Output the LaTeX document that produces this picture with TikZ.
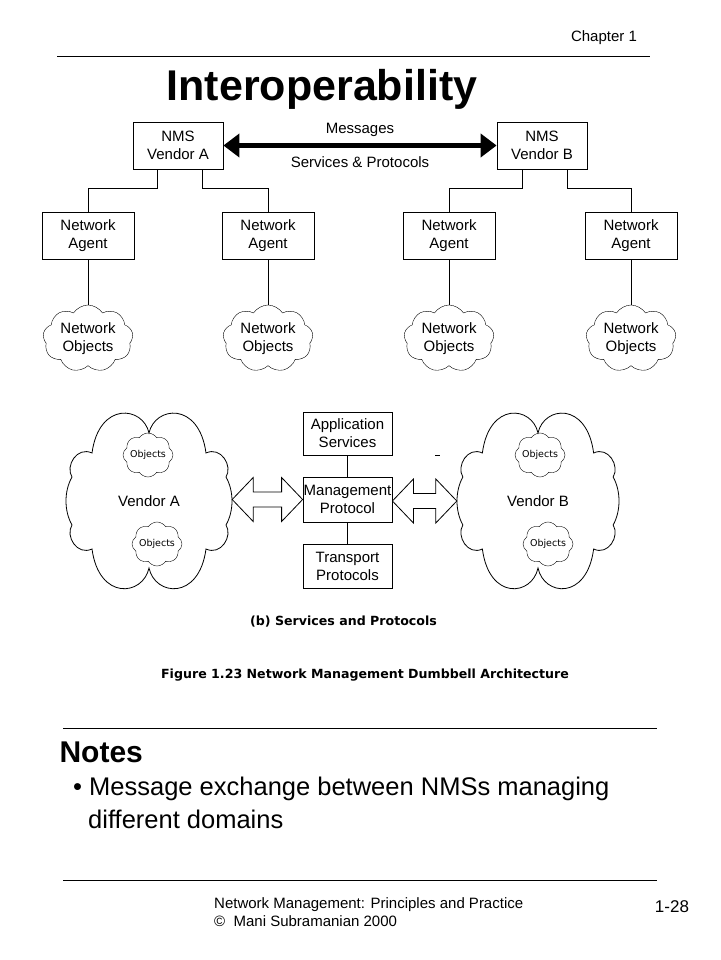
\documentclass[tikz,border=0pt]{standalone}
\usepackage{fontspec}
\setmainfont{Liberation Sans}
\newfontfamily\capfont{DejaVu Sans}
\usetikzlibrary{arrows.meta,positioning,shapes.symbols,calc}

\newcommand{\diagfont}{\fontsize{15}{18}\selectfont}
% outline of a vendor cloud round a named node
\newcommand{\vendorcloud}[2]{%
  \draw[link, shift={(#1.center)}, xscale=#2]
    (0,-68) .. controls (6,-95) and (50,-100) .. (57,-48)
    .. controls (72,-55) and (84,-35) .. (77,-24)
    .. controls (85,-10) and (85,10) .. (77,24)
    .. controls (84,35) and (72,55) .. (57,48)
    .. controls (50,100) and (6,95) .. (0,67)
    .. controls (-6,95) and (-50,100) .. (-57,48)
    .. controls (-72,55) and (-84,35) .. (-77,24)
    .. controls (-85,10) and (-85,-10) .. (-77,-24)
    .. controls (-84,-35) and (-72,-55) .. (-57,-48)
    .. controls (-50,-100) and (-6,-95) .. (0,-68) -- cycle;}

\begin{document}
\begin{tikzpicture}[x=1pt, y=-1pt,
  box/.style={draw, line width=0.8pt, minimum width=90pt, minimum height=47pt,
    align=center, inner sep=0.5pt, font=\diagfont},
  objcloud/.style={draw, cloud, cloud puffs=9, cloud puff arc=115, cloud ignores aspect,
    minimum width=90pt, minimum height=67pt, align=center, inner sep=0pt, font=\diagfont},
  vendor/.style={minimum height=178pt, inner sep=0pt, font=\diagfont},
  smallcloud/.style={draw, cloud, cloud puffs=8, cloud puff arc=115, cloud ignores aspect,
    minimum width=50pt, minimum height=44pt, inner sep=0pt,
    font=\capfont\fontsize{9.5}{10}\selectfont},
  rule/.style={line width=0.8pt},
  link/.style={line width=0.8pt}
]
\useasboundingbox (0,0) rectangle (720,960);

% header
\node[font=\fontsize{15}{17}\selectfont] (chap) at (604,38) {Chapter 1};
\draw[rule] (57,56) -- (650,56);
\node[font=\fontsize{43}{48}\selectfont\bfseries] (title) at (322,89) {Interoperability};

% (a) NMS and agents
\node[box] (nmsA) at (178,145.5) {NMS\\Vendor A};
\node[box] (nmsB) at (542,145.5) {NMS\\Vendor B};
\draw[line width=5pt, {Triangle[length=16pt,width=23pt]}-{Triangle[length=16pt,width=23pt]}]
  (nmsA.east) -- (nmsB.west)
  node[midway, above=3pt, font=\diagfont] (msg) {Messages}
  node[midway, below=5pt, font=\diagfont] (serv) {Services \& Protocols};

\foreach \n/\x in {agA/88, agB/268, agC/449, agD/631} {
  \node[box, minimum width=92pt] (\n) at (\x,236) {Network\\Agent};
  \node[objcloud] (obj\n) at (\x,338.5) {Network\\Objects};
  \draw[link] (\n) -- (obj\n);
}
\foreach \m/\a/\dx in {nmsA/agA/-21, nmsA/agB/24, nmsB/agC/-20, nmsB/agD/25}
  \draw[link] ([xshift=\dx pt]\m.south) -- ++(0,19) -| (\a.north);

% (b) services and protocols
\node[vendor, minimum width=166pt] (vendA) at (149,501) {Vendor A};
\node[vendor, minimum width=162pt] (vendB) at (538,501) {Vendor B};
\vendorcloud{vendA}{1}
\vendorcloud{vendB}{0.976}
\node[smallcloud] (objA1) at (148,455) {Objects};
\node[smallcloud] (objA2) at (157,544) {Objects};
\node[smallcloud] (objB1) at (540,455) {Objects};
\node[smallcloud] (objB2) at (548,544) {Objects};

\node[box, minimum width=89pt, minimum height=43pt] (app) at (347.5,433.5) {Application\\Services};
\node[box, minimum width=89pt, minimum height=45pt] (mgmt) at (347.5,499.5) {Management\\Protocol};
\node[box, minimum width=89pt, minimum height=44pt] (trans) at (347.5,566) {Transport\\Protocols};
\draw[link] (app) -- (mgmt);
\draw[link] (mgmt) -- (trans);

% hollow double arrows
\foreach \a/\b in {vendA/mgmt, mgmt/vendB}
  \draw[link] let \p1=(\a.east), \p2=(\b.west) in
    (\x1,\y2) -- (\x1+21pt,\y2+22pt) -- (\x1+21pt,\y2+7.5pt) -- (\x2-21pt,\y2+7.5pt)
    -- (\x2-21pt,\y2+22pt) -- (\x2,\y2) -- (\x2-21pt,\y2-22pt) -- (\x2-21pt,\y2-7.5pt)
    -- (\x1+21pt,\y2-7.5pt) -- (\x1+21pt,\y2-22pt) -- cycle;
\draw[link] (435,455) -- (440,455);

\node[font=\capfont\bfseries\fontsize{12.6}{15}\selectfont] (capb) at (343.5,622) {(b) Services and Protocols};
\node[font=\capfont\bfseries\fontsize{12.6}{15}\selectfont] (capfig) at (365,675) {Figure 1.23 Network Management Dumbbell Architecture};

% notes
\draw[rule] (63,728) -- (657,728);
\node[anchor=west, font=\fontsize{30}{34}\selectfont\bfseries] (notes) at (56,752) {Notes};
\node[anchor=north west, align=left, inner sep=0pt, font=\fontsize{25.5}{33}\selectfont] (note1) at (73,777)
  {\textbullet\ Message exchange between NMSs managing\\
   \hspace*{15pt}different domains};
\draw[rule] (63,880) -- (657,880);

% footer
\node[anchor=west, align=left, inner sep=0pt, font=\fontsize{15}{18}\selectfont] (foot) at (214,912)
  {Network Management: Principles and Practice\\
   \textcopyright\ \ Mani Subramanian 2000};
\node[font=\fontsize{17}{19}\selectfont] (page) at (672,907) {1-28};
\end{tikzpicture}
\end{document}
